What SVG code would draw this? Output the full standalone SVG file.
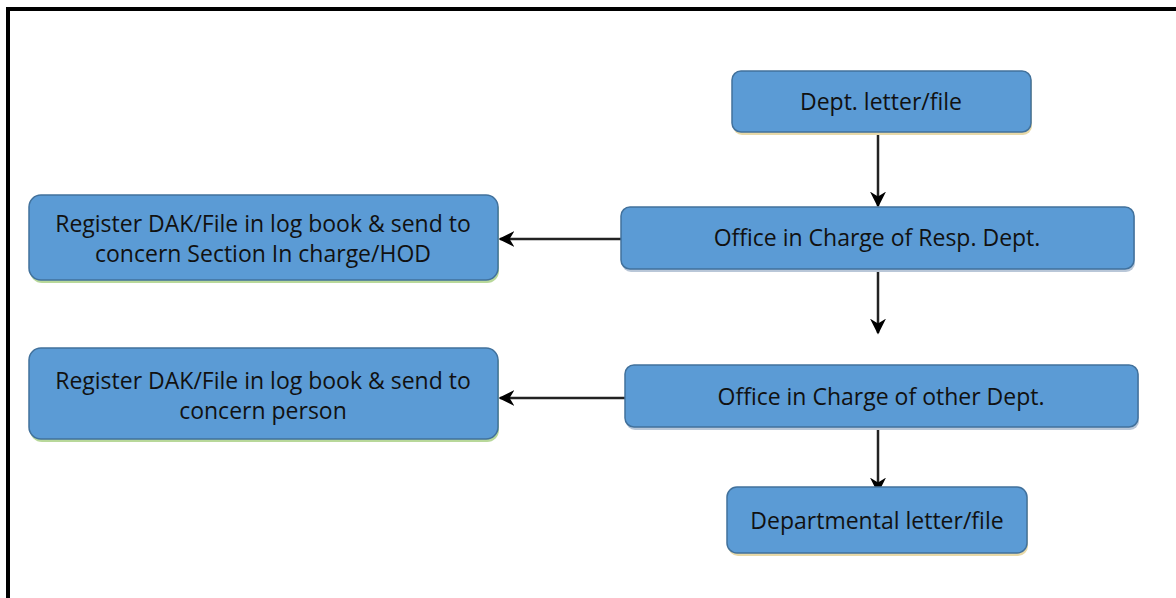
<svg xmlns="http://www.w3.org/2000/svg" width="1176" height="598" viewBox="0 0 1176 598">
  <style>
    .box { fill: #5B9BD5; stroke: #41719C; stroke-width: 1.5; }
    .shadow { fill: #E8D9A8; }
    .lbl { font-family: "Open Sans", "Liberation Sans", sans-serif; font-size: 23px; fill: #111; text-anchor: middle; }
    .conn { stroke: #222; stroke-width: 2.5; fill: none; marker-end: url(#arrow); }
  </style>
  <defs>
    <marker id="arrow" viewBox="0 0 10 10" refX="9" refY="5" markerWidth="16" markerHeight="16" orient="auto" markerUnits="userSpaceOnUse">
      <path d="M0,0 L10,5 L0,10 L3,5 Z" fill="#000"/>
    </marker>
  </defs>

  <rect width="1176" height="598" fill="#fff"/>
  <!-- page frame -->
  <path d="M8,598 V9 H1176" fill="none" stroke="#000" stroke-width="4"/>

  <g id="connectors">
    <line class="conn" x1="878" y1="133" x2="878" y2="206"/>
    <line class="conn" x1="621" y1="239" x2="500" y2="239"/>
    <line class="conn" x1="878" y1="270" x2="878" y2="333"/>
    <line class="conn" x1="625" y1="398" x2="500" y2="398"/>
    <line class="conn" x1="878" y1="429" x2="878" y2="492"/>
  </g>

  <g id="dept-letter">
    <rect class="shadow" x="733" y="74" width="299" height="61" rx="9"/>
    <rect class="box" x="732" y="71" width="299" height="61" rx="9"/>
    <text class="lbl" x="881" y="110">Dept. letter/file</text>
  </g>

  <g id="office-resp">
    <rect class="shadow" x="622" y="210" width="513" height="62" rx="9" style="fill:#b9c7d8"/>
    <rect class="box" x="621" y="207" width="513" height="62" rx="9"/>
    <text class="lbl" x="877" y="246">Office in Charge of Resp. Dept.</text>
  </g>

  <g id="register-section">
    <rect class="shadow" x="30" y="198" width="469" height="85" rx="12" style="fill:#b8d89a"/>
    <rect class="box" x="29" y="195" width="469" height="85" rx="12"/>
    <text class="lbl" x="263" y="232">Register DAK/File in log book &amp; send to</text>
    <text class="lbl" x="263" y="262">concern Section In charge/HOD</text>
  </g>

  <g id="register-person">
    <rect class="shadow" x="30" y="351" width="469" height="91" rx="12" style="fill:#b8d89a"/>
    <rect class="box" x="29" y="348" width="469" height="91" rx="12"/>
    <text class="lbl" x="263" y="389">Register DAK/File in log book &amp; send to</text>
    <text class="lbl" x="263" y="419">concern person</text>
  </g>

  <g id="office-other">
    <rect class="shadow" x="626" y="368" width="513" height="62" rx="9" style="fill:#b9c7d8"/>
    <rect class="box" x="625" y="365" width="513" height="62" rx="9"/>
    <text class="lbl" x="881" y="405">Office in Charge of other Dept.</text>
  </g>

  <g id="departmental-letter">
    <rect class="shadow" x="728" y="490" width="300" height="66" rx="10"/>
    <rect class="box" x="727" y="487" width="300" height="66" rx="10"/>
    <text class="lbl" x="877" y="529">Departmental letter/file</text>
  </g>
</svg>
